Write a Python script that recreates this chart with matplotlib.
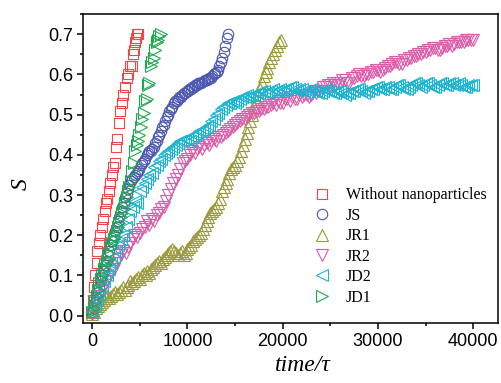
import numpy as np
from matplotlib import pyplot as plt
from matplotlib.ticker import MultipleLocator

# (time, S) pairs
without_np = [(0, 0.01), (100, 0.04), (200, 0.07), (300, 0.10), (450, 0.13), (550, 0.16),
              (700, 0.18), (850, 0.20), (1000, 0.22), (1150, 0.24), (1300, 0.26), (1450, 0.28),
              (1600, 0.29), (1750, 0.31), (1900, 0.33), (2050, 0.35), (2200, 0.37), (2350, 0.38),
              (2450, 0.42), (2650, 0.44), (2800, 0.48), (2950, 0.51), (3100, 0.53), (3250, 0.55),
              (3450, 0.57), (3650, 0.59), (3800, 0.60), (4000, 0.62), (4150, 0.62), (4250, 0.65),
              (4350, 0.66), (4450, 0.68), (4550, 0.69), (4750, 0.70), (4850, 0.70)]

js = [(0, 0.01), (150, 0.02), (300, 0.035), (450, 0.045), (600, 0.06), (750, 0.07),
      (900, 0.085), (1050, 0.10), (1200, 0.11), (1350, 0.125), (1500, 0.135), (1650, 0.15),
      (1800, 0.16), (1950, 0.175), (2100, 0.185), (2250, 0.20), (2400, 0.21), (2550, 0.22),
      (2700, 0.235), (2850, 0.245), (3000, 0.26), (3150, 0.27), (3300, 0.28), (3450, 0.295),
      (3600, 0.305), (3750, 0.315), (3900, 0.325), (4050, 0.335), (4200, 0.34), (4350, 0.345),
      (4500, 0.35), (4650, 0.355), (4800, 0.36), (4950, 0.365), (5100, 0.375), (5250, 0.38),
      (5400, 0.385), (5550, 0.39), (5700, 0.40), (5850, 0.405), (6000, 0.41), (6150, 0.41),
      (6300, 0.415), (6450, 0.42), (6600, 0.43), (6750, 0.435), (6900, 0.445), (7050, 0.45),
      (7200, 0.46), (7350, 0.47), (7500, 0.475), (7650, 0.485), (7800, 0.495), (7950, 0.50),
      (8100, 0.51), (8250, 0.515), (8400, 0.52), (8550, 0.53), (8700, 0.535), (8850, 0.535),
      (9000, 0.54), (9150, 0.545), (9300, 0.545), (9450, 0.55), (9600, 0.555), (9750, 0.555),
      (9900, 0.56), (10050, 0.56), (10200, 0.565), (10350, 0.565), (10500, 0.57),
      (10650, 0.57), (10800, 0.575), (10950, 0.575), (11100, 0.578), (11250, 0.58),
      (11400, 0.58), (11550, 0.582), (11700, 0.584), (11850, 0.585), (12000, 0.586),
      (12150, 0.588), (12300, 0.59), (12450, 0.592), (12600, 0.595), (12750, 0.60),
      (12900, 0.603), (13050, 0.607), (13200, 0.612), (13350, 0.62), (13500, 0.63),
      (13650, 0.64), (13800, 0.655), (13950, 0.67), (14100, 0.69), (14250, 0.70)]

jr1 = [(0, 0.005), (200, 0.01), (400, 0.02), (600, 0.025), (800, 0.03), (1000, 0.035),
       (1200, 0.04), (1400, 0.045), (1600, 0.05), (1800, 0.045), (2000, 0.05), (2200, 0.055),
       (2400, 0.06), (2600, 0.055), (2800, 0.06), (3000, 0.065), (3200, 0.07), (3400, 0.065),
       (3600, 0.07), (3800, 0.075), (4000, 0.085), (4200, 0.08), (4400, 0.085), (4600, 0.09),
       (4800, 0.095), (5000, 0.09), (5200, 0.10), (5400, 0.105), (5600, 0.10), (5800, 0.11),
       (6000, 0.105), (6200, 0.115), (6400, 0.12), (6600, 0.125), (6800, 0.13), (7000, 0.135),
       (7200, 0.13), (7400, 0.14), (7600, 0.145), (7800, 0.15), (8000, 0.155), (8200, 0.16),
       (8400, 0.165), (8600, 0.16), (8800, 0.155), (9000, 0.15), (9200, 0.155), (9400, 0.16),
       (9600, 0.15), (9800, 0.155), (10000, 0.165), (10200, 0.17), (10400, 0.175),
       (10600, 0.185), (10800, 0.19), (11000, 0.195), (11200, 0.20), (11400, 0.205),
       (11600, 0.215), (11800, 0.225), (12000, 0.235), (12200, 0.245), (12400, 0.255),
       (12600, 0.26), (12800, 0.265), (13000, 0.27), (13200, 0.28), (13400, 0.29),
       (13600, 0.31), (13800, 0.32), (14000, 0.33), (14200, 0.34), (14400, 0.355),
       (14600, 0.365), (14800, 0.37), (15000, 0.375), (15200, 0.385), (15400, 0.395),
       (15600, 0.41), (15800, 0.425), (16000, 0.44), (16200, 0.455), (16400, 0.47),
       (16600, 0.485), (16800, 0.50), (17000, 0.52), (17200, 0.535), (17400, 0.55),
       (17600, 0.565), (17800, 0.58), (18000, 0.595), (18200, 0.605), (18400, 0.615),
       (18600, 0.63), (18800, 0.64), (19000, 0.65), (19200, 0.66), (19400, 0.67),
       (19600, 0.68), (19800, 0.685)]

jr2 = [(0, 0.005), (250, 0.02), (500, 0.04), (750, 0.05), (1000, 0.065), (1250, 0.07),
       (1500, 0.085), (1750, 0.095), (2000, 0.11), (2250, 0.115), (2500, 0.13), (2750, 0.14),
       (3000, 0.15), (3250, 0.16), (3500, 0.155), (3750, 0.17), (4000, 0.18), (4250, 0.19),
       (4500, 0.20), (4750, 0.195), (5000, 0.205), (5250, 0.215), (5500, 0.22), (5750, 0.235),
       (6000, 0.225), (6250, 0.24), (6500, 0.235), (6750, 0.25), (7000, 0.255), (7250, 0.265),
       (7500, 0.27), (7750, 0.285), (8000, 0.30), (8250, 0.315), (8500, 0.33), (8750, 0.34),
       (9000, 0.35), (9250, 0.365), (9500, 0.38), (9750, 0.385), (10000, 0.39), (10250, 0.40),
       (10500, 0.41), (10750, 0.405), (11000, 0.415), (11250, 0.42), (11500, 0.415),
       (11750, 0.425), (12000, 0.43), (12250, 0.425), (12500, 0.435), (12750, 0.44),
       (13000, 0.435), (13250, 0.445), (13500, 0.445), (13750, 0.45), (14000, 0.455),
       (14250, 0.46), (14500, 0.465), (14750, 0.47), (15000, 0.475), (15250, 0.48),
       (15500, 0.485), (15750, 0.49), (16000, 0.49), (16250, 0.495), (16500, 0.50),
       (16750, 0.505), (17000, 0.505), (17250, 0.51), (17500, 0.51), (17750, 0.515),
       (18000, 0.515), (18250, 0.52), (18500, 0.52), (18750, 0.525), (19000, 0.53),
       (19250, 0.525), (19500, 0.535), (19750, 0.53), (20000, 0.53), (20250, 0.54),
       (20500, 0.54), (20750, 0.535), (21000, 0.545), (21250, 0.54), (21500, 0.54),
       (21750, 0.55), (22000, 0.545), (22250, 0.55), (22500, 0.55), (22750, 0.545),
       (23000, 0.55), (23250, 0.56), (23500, 0.555), (23750, 0.56), (24000, 0.56),
       (24250, 0.57), (24500, 0.57), (24750, 0.575), (25000, 0.575), (25250, 0.58),
       (25500, 0.575), (25750, 0.58), (26000, 0.58), (26250, 0.585), (26500, 0.585),
       (26750, 0.58), (27000, 0.58), (27250, 0.59), (27500, 0.59), (27750, 0.595),
       (28000, 0.60), (28250, 0.595), (28500, 0.595), (28750, 0.60), (29000, 0.60),
       (29250, 0.605), (29500, 0.605), (29750, 0.61), (30000, 0.61), (30250, 0.605),
       (30500, 0.61), (30750, 0.615), (31000, 0.62), (31250, 0.62), (31500, 0.625),
       (31750, 0.63), (32000, 0.63), (32250, 0.625), (32500, 0.625), (32750, 0.635),
       (33000, 0.635), (33250, 0.64), (33500, 0.64), (33750, 0.645), (34000, 0.645),
       (34250, 0.65), (34500, 0.65), (34750, 0.655), (35000, 0.655), (35250, 0.66),
       (35500, 0.66), (35750, 0.665), (36000, 0.665), (36250, 0.66), (36500, 0.66),
       (36750, 0.665), (37000, 0.67), (37250, 0.67), (37500, 0.675), (37750, 0.67),
       (38000, 0.675), (38250, 0.68), (38500, 0.68), (38750, 0.68), (39000, 0.68),
       (39250, 0.685), (39500, 0.685), (39750, 0.685), (40000, 0.685)]

jd2 = [(0, 0.01), (250, 0.025), (500, 0.04), (750, 0.055), (1000, 0.07), (1250, 0.085),
       (1500, 0.10), (1750, 0.115), (2000, 0.13), (2250, 0.145), (2500, 0.16), (2750, 0.175),
       (3000, 0.19), (3250, 0.20), (3500, 0.22), (3750, 0.24), (4000, 0.26), (4250, 0.27),
       (4500, 0.285), (4750, 0.28), (5000, 0.31), (5250, 0.32), (5500, 0.33), (5750, 0.34),
       (6000, 0.35), (6250, 0.355), (6500, 0.37), (6750, 0.375), (7000, 0.385), (7250, 0.39),
       (7500, 0.40), (7750, 0.405), (8000, 0.41), (8250, 0.415), (8500, 0.42), (8750, 0.425),
       (9000, 0.43), (9250, 0.435), (9500, 0.435), (9750, 0.44), (10000, 0.44),
       (10250, 0.435), (10500, 0.445), (10750, 0.45), (11000, 0.455), (11250, 0.46),
       (11500, 0.46), (11750, 0.465), (12000, 0.47), (12250, 0.475), (12500, 0.485),
       (12750, 0.49), (13000, 0.50), (13250, 0.505), (13500, 0.515), (13750, 0.52),
       (14000, 0.525), (14250, 0.53), (14500, 0.53), (14750, 0.535), (15000, 0.53),
       (15250, 0.535), (15500, 0.54), (15750, 0.545), (16000, 0.545), (16250, 0.55),
       (16500, 0.545), (16750, 0.55), (17000, 0.55), (17250, 0.555), (17500, 0.555),
       (17750, 0.56), (18000, 0.56), (18250, 0.555), (18500, 0.555), (18750, 0.56),
       (19000, 0.565), (19250, 0.56), (19500, 0.56), (19750, 0.565), (20000, 0.56),
       (20250, 0.565), (20500, 0.565), (20750, 0.57), (21000, 0.57), (21250, 0.565),
       (21500, 0.56), (21750, 0.565), (22000, 0.565), (22250, 0.56), (22500, 0.555),
       (22750, 0.56), (23000, 0.565), (23250, 0.56), (23500, 0.56), (23750, 0.555),
       (24000, 0.555), (24250, 0.56), (24500, 0.565), (24750, 0.56), (25000, 0.56),
       (25250, 0.555), (25500, 0.555), (25750, 0.56), (26000, 0.56), (26250, 0.555),
       (26500, 0.55), (26750, 0.555), (27000, 0.555), (27250, 0.56), (27500, 0.56),
       (27750, 0.565), (28000, 0.565), (28250, 0.56), (28500, 0.555), (28750, 0.56),
       (29000, 0.56), (29250, 0.565), (29500, 0.565), (29750, 0.57), (30000, 0.57),
       (30250, 0.565), (30500, 0.565), (30750, 0.57), (31000, 0.57), (31250, 0.565),
       (31500, 0.565), (31750, 0.57), (32000, 0.575), (32250, 0.575), (32500, 0.57),
       (32750, 0.565), (33000, 0.565), (33250, 0.57), (33500, 0.575), (33750, 0.58),
       (34000, 0.58), (34250, 0.575), (34500, 0.57), (34750, 0.575), (35000, 0.58),
       (35250, 0.58), (35500, 0.575), (35750, 0.57), (36000, 0.57), (36250, 0.575),
       (36500, 0.58), (36750, 0.58), (37000, 0.575), (37250, 0.575), (37500, 0.58),
       (37750, 0.58), (38000, 0.575), (38250, 0.575), (38500, 0.58), (38750, 0.575),
       (39000, 0.57), (39250, 0.57), (39500, 0.575), (39750, 0.575), (40000, 0.575)]

jd1 = [(0, 0.01), (150, 0.02), (300, 0.035), (450, 0.05), (600, 0.065), (750, 0.08),
       (900, 0.09), (1050, 0.10), (1200, 0.115), (1350, 0.125), (1500, 0.135), (1650, 0.14),
       (1800, 0.155), (1950, 0.17), (2100, 0.18), (2250, 0.19), (2400, 0.195), (2550, 0.21),
       (2700, 0.22), (2850, 0.23), (3000, 0.245), (3150, 0.255), (3300, 0.265), (3450, 0.28),
       (3600, 0.295), (3750, 0.31), (3900, 0.32), (4050, 0.335), (4200, 0.36), (4350, 0.38),
       (4500, 0.41), (4650, 0.425), (4800, 0.435), (4950, 0.45), (5100, 0.47), (5250, 0.49),
       (5400, 0.505), (5550, 0.535), (5700, 0.54), (5850, 0.575), (6000, 0.58), (6150, 0.62),
       (6300, 0.63), (6450, 0.64), (6600, 0.66), (6750, 0.68), (6900, 0.685), (7050, 0.695),
       (7200, 0.70)]

series = [("Without nanoparticles", without_np, "s", "#f04848", 6.5),
          ("JS", js, "o", "#4a56b0", 7.5),
          ("JR1", jr1, "^", "#9a9a38", 8),
          ("JR2", jr2, "v", "#dc5aa8", 8),
          ("JD2", jd2, "<", "#1cb4d2", 8),
          ("JD1", jd1, ">", "#20a850", 8)]

fig = plt.figure(figsize=(5.01, 3.83), dpi=100)
ax = fig.add_axes([0.166, 0.157, 0.828, 0.806])

for label, pts, mk, col, ms in series:
    t, s = zip(*pts)
    ax.plot(t, s, linestyle="none", marker=mk, markersize=ms, markerfacecolor="none",
            markeredgecolor=col, markeredgewidth=0.8, label=label)

ax.set_xlim(-950, 42600)
ax.set_ylim(-0.018, 0.75)
ax.xaxis.set_major_locator(MultipleLocator(10000))
ax.xaxis.set_minor_locator(MultipleLocator(5000))
ax.yaxis.set_major_locator(MultipleLocator(0.1))
ax.yaxis.set_minor_locator(MultipleLocator(0.05))
ax.yaxis.set_major_formatter(plt.FuncFormatter(lambda v, p: f"{v:.1f}"))
ax.tick_params(which="major", direction="out", length=4, width=1.1, labelsize=13, pad=3)
ax.tick_params(which="minor", direction="out", length=2.5, width=1.1)
ax.tick_params(top=False, right=False)
for lab in ax.get_xticklabels() + ax.get_yticklabels():
    lab.set_family("Liberation Sans")
for sp in ax.spines.values():
    sp.set_linewidth(1.1)

ax.set_xlabel("time/τ", fontsize=17, family="Liberation Serif", style="italic")
ax.set_ylabel("S", fontsize=17, family="Liberation Serif", style="italic")
ax.xaxis.set_label_coords(0.53, -0.105)
ax.yaxis.set_label_coords(-0.125, 0.45)

ax.legend(loc="lower right", bbox_to_anchor=(1.0, 0.02), frameon=False, numpoints=1,
          prop={"family": "Liberation Serif", "size": 11.5}, handletextpad=0.5,
          labelspacing=0.28, borderaxespad=0.3)

fig.savefig("out.png", dpi=100)
